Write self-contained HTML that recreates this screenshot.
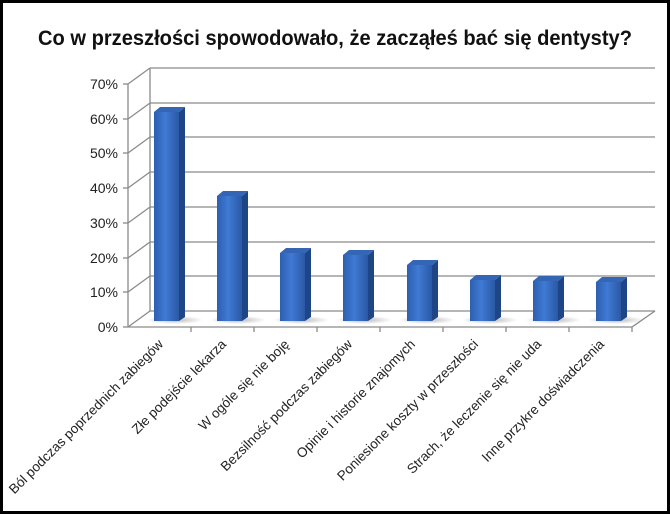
<!DOCTYPE html>
<html><head><meta charset="utf-8"><style>
html,body{margin:0;padding:0;background:#fff;}
svg{display:block;}
</style></head><body>
<svg width="670" height="514" viewBox="0 0 670 514" xmlns="http://www.w3.org/2000/svg" font-family="Liberation Sans, sans-serif">
<defs>
<linearGradient id="fr" x1="0" x2="1" y1="0" y2="0">
<stop offset="0" stop-color="#2d5fb0"/><stop offset="0.45" stop-color="#3f7ad4"/><stop offset="1" stop-color="#2a58a5"/>
</linearGradient>
<radialGradient id="sh" cx="0.5" cy="0.5" r="0.5"><stop offset="0" stop-color="#888" stop-opacity="0.6"/><stop offset="1" stop-color="#888" stop-opacity="0"/></radialGradient>
</defs>
<rect x="1.5" y="1.5" width="667" height="511" fill="#fff" stroke="#000" stroke-width="3"/>
<text x="335" y="45" text-anchor="middle" font-size="21" font-weight="bold" textLength="594" lengthAdjust="spacingAndGlyphs" fill="#111">Co w przeszłości spowodowało, że zacząłeś bać się dentysty?</text>
<g stroke="#8a8a8a" stroke-width="1.3" fill="none">
<line x1="150" y1="68" x2="655" y2="68"/>
<line x1="150" y1="103" x2="655" y2="103"/>
<line x1="150" y1="137" x2="655" y2="137"/>
<line x1="150" y1="172" x2="655" y2="172"/>
<line x1="150" y1="207" x2="655" y2="207"/>
<line x1="150" y1="242" x2="655" y2="242"/>
<line x1="150" y1="276" x2="655" y2="276"/>
<line x1="150" y1="311" x2="655" y2="311"/>
<line x1="150" y1="68" x2="150" y2="311"/>
<line x1="128" y1="84" x2="150" y2="68"/>
<line x1="128" y1="119" x2="150" y2="103"/>
<line x1="128" y1="153" x2="150" y2="137"/>
<line x1="128" y1="188" x2="150" y2="172"/>
<line x1="128" y1="223" x2="150" y2="207"/>
<line x1="128" y1="258" x2="150" y2="242"/>
<line x1="128" y1="292" x2="150" y2="276"/>
<line x1="128" y1="327" x2="150" y2="311"/>
<line x1="632" y1="327" x2="655" y2="311"/>
<line x1="128" y1="84" x2="128" y2="327"/>
<line x1="128" y1="327" x2="632" y2="327"/>
<line x1="123" y1="84" x2="128" y2="84"/>
<line x1="123" y1="119" x2="128" y2="119"/>
<line x1="123" y1="153" x2="128" y2="153"/>
<line x1="123" y1="188" x2="128" y2="188"/>
<line x1="123" y1="223" x2="128" y2="223"/>
<line x1="123" y1="258" x2="128" y2="258"/>
<line x1="123" y1="292" x2="128" y2="292"/>
<line x1="123" y1="327" x2="128" y2="327"/>
<line x1="191" y1="327" x2="191" y2="332"/>
<line x1="254" y1="327" x2="254" y2="332"/>
<line x1="317" y1="327" x2="317" y2="332"/>
<line x1="380" y1="327" x2="380" y2="332"/>
<line x1="443" y1="327" x2="443" y2="332"/>
<line x1="506" y1="327" x2="506" y2="332"/>
<line x1="569" y1="327" x2="569" y2="332"/>
<line x1="632" y1="327" x2="632" y2="332"/>
</g>
<g font-size="14" fill="#222" text-anchor="end">
<text x="118" y="89">70%</text><text x="118" y="124">60%</text><text x="118" y="158">50%</text>
<text x="118" y="193">40%</text><text x="118" y="228">30%</text><text x="118" y="263">20%</text>
<text x="118" y="297">10%</text><text x="118" y="332">0%</text>
</g>
<g id="bars">
<g>
<ellipse cx="175" cy="320" rx="28" ry="4" fill="url(#sh)"/>
<polygon points="179,112 185,107 185,317 179,321" fill="#1e4585"/>
<polygon points="154,112 160,107 185,107 179,112" fill="#3566b5"/>
<rect x="154" y="112" width="25" height="209" fill="url(#fr)"/>
</g>
<g>
<ellipse cx="238" cy="320" rx="28" ry="4" fill="url(#sh)"/>
<polygon points="242,196 248,191 248,317 242,321" fill="#1e4585"/>
<polygon points="217,196 223,191 248,191 242,196" fill="#3566b5"/>
<rect x="217" y="196" width="25" height="125" fill="url(#fr)"/>
</g>
<g>
<ellipse cx="301" cy="320" rx="28" ry="4" fill="url(#sh)"/>
<polygon points="305,253 311,248 311,317 305,321" fill="#1e4585"/>
<polygon points="280,253 286,248 311,248 305,253" fill="#3566b5"/>
<rect x="280" y="253" width="25" height="68" fill="url(#fr)"/>
</g>
<g>
<ellipse cx="364" cy="320" rx="28" ry="4" fill="url(#sh)"/>
<polygon points="368,255 374,250 374,317 368,321" fill="#1e4585"/>
<polygon points="343,255 349,250 374,250 368,255" fill="#3566b5"/>
<rect x="343" y="255" width="25" height="66" fill="url(#fr)"/>
</g>
<g>
<ellipse cx="427" cy="320" rx="28" ry="4" fill="url(#sh)"/>
<polygon points="432,265 438,260 438,317 432,321" fill="#1e4585"/>
<polygon points="407,265 413,260 438,260 432,265" fill="#3566b5"/>
<rect x="407" y="265" width="25" height="56" fill="url(#fr)"/>
</g>
<g>
<ellipse cx="490" cy="320" rx="28" ry="4" fill="url(#sh)"/>
<polygon points="495,280 501,275 501,317 495,321" fill="#1e4585"/>
<polygon points="470,280 476,275 501,275 495,280" fill="#3566b5"/>
<rect x="470" y="280" width="25" height="41" fill="url(#fr)"/>
</g>
<g>
<ellipse cx="553" cy="320" rx="28" ry="4" fill="url(#sh)"/>
<polygon points="558,281 564,276 564,317 558,321" fill="#1e4585"/>
<polygon points="533,281 539,276 564,276 558,281" fill="#3566b5"/>
<rect x="533" y="281" width="25" height="40" fill="url(#fr)"/>
</g>
<g>
<ellipse cx="616" cy="320" rx="28" ry="4" fill="url(#sh)"/>
<polygon points="621,282 627,277 627,317 621,321" fill="#1e4585"/>
<polygon points="596,282 602,277 627,277 621,282" fill="#3566b5"/>
<rect x="596" y="282" width="25" height="39" fill="url(#fr)"/>
</g>
</g>
<g font-size="13.5" fill="#222" text-anchor="end">
<text transform="translate(164,345) rotate(-45)">Ból podczas poprzednich zabiegów</text>
<text transform="translate(227,345) rotate(-45)">Złe podejście lekarza</text>
<text transform="translate(290,345) rotate(-45)">W ogóle się nie boję</text>
<text transform="translate(353,345) rotate(-45)">Bezsilność podczas zabiegów</text>
<text transform="translate(416,345) rotate(-45)">Opinie i historie znajomych</text>
<text transform="translate(479,345) rotate(-45)">Poniesione koszty w przeszłości</text>
<text transform="translate(542,345) rotate(-45)">Strach, że leczenie się nie uda</text>
<text transform="translate(605,345) rotate(-45)">Inne przykre doświadczenia</text>
</g>
</svg>
</body></html>
